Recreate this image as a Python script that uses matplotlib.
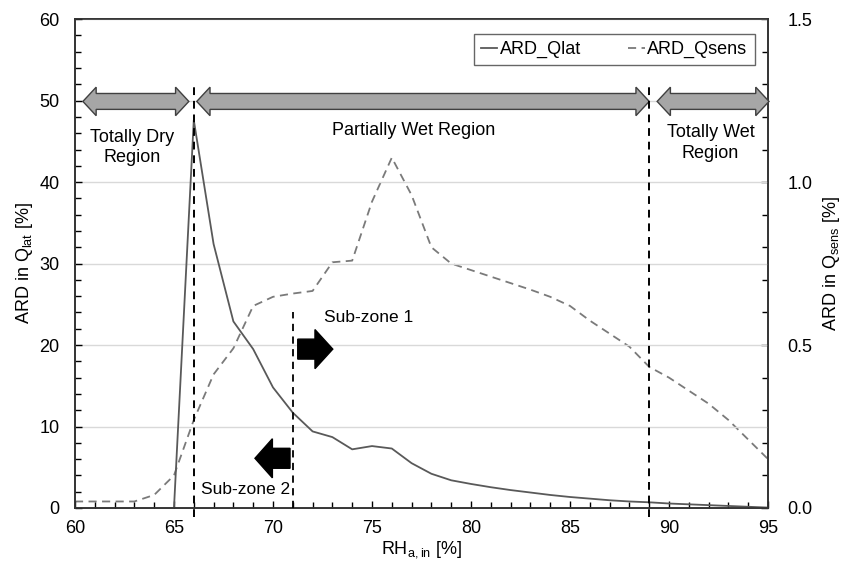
import numpy as np
import matplotlib.pyplot as plt
from matplotlib.patches import Polygon, FancyArrow
from matplotlib.ticker import MultipleLocator

plt.rcParams['font.family'] = ['Liberation Sans', 'DejaVu Sans']
plt.rcParams['mathtext.fontset'] = 'custom'
plt.rcParams['mathtext.rm'] = 'Liberation Sans'

# ARD_Qlat (left axis)
rh_lat = [65, 66, 67, 68, 69, 70, 71, 72, 73, 74, 75, 76, 77, 78, 79, 80,
          81, 82, 83, 84, 85, 86, 87, 88, 89, 90, 91, 92, 93, 94, 95]
ard_lat = [0.0, 47.6, 32.4, 22.9, 19.5, 14.8, 11.7, 9.4, 8.7, 7.2, 7.6, 7.3,
           5.5, 4.2, 3.4, 2.95, 2.55, 2.2, 1.9, 1.6, 1.35, 1.15, 0.95, 0.8,
           0.7, 0.55, 0.45, 0.35, 0.25, 0.15, 0.05]

# ARD_Qsens (right axis)
rh_sens = [60, 61, 62, 63, 64, 65, 66, 67, 68, 69, 70, 71, 72, 73, 74, 75,
           76, 77, 78, 79, 80, 81, 82, 83, 84, 85, 86, 87, 88, 89, 90, 91,
           92, 93, 94, 95]
ard_sens = [0.02, 0.02, 0.02, 0.02, 0.04, 0.10, 0.27, 0.41, 0.49, 0.62,
            0.648, 0.658, 0.666, 0.754, 0.759, 0.94, 1.075, 0.96, 0.80,
            0.75, 0.73, 0.71, 0.69, 0.67, 0.648, 0.62, 0.575, 0.535, 0.495,
            0.433, 0.40, 0.36, 0.32, 0.27, 0.21, 0.15]

zone_bounds = [66, 89]
subzone_x = 71
FS = 13

fig = plt.figure(figsize=(8.51, 5.63), dpi=100)
ax = fig.add_axes([0.0881, 0.0977, 0.8144, 0.8683])
ax2 = ax.twinx()

ax.set_zorder(ax2.get_zorder() + 1)
ax.patch.set_visible(False)

l1, = ax.plot(rh_lat, ard_lat, color='#595959', lw=1.3, label='ARD_Qlat')
l2, = ax2.plot(rh_sens, ard_sens, color='#7a7a7a', lw=1.3,
               linestyle=(0, (4.5, 3)), label='ARD_Qsens')

ax.set_xlim(60, 95)
ax.set_ylim(0, 60)
ax2.set_ylim(0, 1.5)
ax.xaxis.set_major_locator(MultipleLocator(5))
ax.xaxis.set_minor_locator(MultipleLocator(1))
ax.yaxis.set_major_locator(MultipleLocator(10))
ax.yaxis.set_minor_locator(MultipleLocator(2))
ax2.yaxis.set_major_locator(MultipleLocator(0.5))
ax2.yaxis.set_minor_locator(MultipleLocator(0.1))
ax2.yaxis.set_major_formatter(plt.FormatStrFormatter('%.1f'))

for a in (ax, ax2):
    a.tick_params(which='major', direction='in', length=5, width=1,
                  labelsize=FS, colors='black')
    a.tick_params(which='minor', direction='in', length=4, width=1)
    for s in a.spines.values():
        s.set_color('#333333')
        s.set_linewidth(1.2)
ax.tick_params(axis='y', which='major', pad=11)
ax.tick_params(axis='x', which='major', pad=9)
ax2.tick_params(axis='y', which='major', pad=14)

ax.grid(axis='y', which='major', color='#d9d9d9', lw=1)
ax.set_axisbelow(True)

ax.set_xlabel(r'RH$_{\mathregular{a,in}}$ [%]', fontsize=FS, labelpad=1)
ax.set_ylabel(r'ARD in Q$_{\mathregular{lat}}$ [%]', fontsize=FS, labelpad=3)
ax2.set_ylabel(r'ARD in Q$_{\mathregular{sens}}$ [%]', fontsize=FS, labelpad=6)

# region boundaries
for xb in zone_bounds:
    ax.plot([xb, xb], [-1.1, 52], color='black', lw=1.4, ls=(0, (4, 3)),
            clip_on=False, zorder=5)
ax.plot([subzone_x, subzone_x], [0, 24], color='black', lw=1.3,
        ls=(0, (4, 3)), zorder=5)


def double_arrow(x0, x1, y, body=1.95, head=3.5, hl=0.67):
    pts = [(x0, y), (x0 + hl, y + head / 2), (x0 + hl, y + body / 2),
           (x1 - hl, y + body / 2), (x1 - hl, y + head / 2), (x1, y),
           (x1 - hl, y - head / 2), (x1 - hl, y - body / 2),
           (x0 + hl, y - body / 2), (x0 + hl, y - head / 2)]
    ax.add_patch(Polygon(pts, closed=True, facecolor='#a6a6a6',
                         edgecolor='#404040', lw=1, zorder=4, clip_on=False))


double_arrow(60.4, 65.75, 49.9)
double_arrow(66.15, 89.0, 49.9)
double_arrow(89.4, 95.05, 49.9)

ax.text(62.9, 44.2, 'Totally Dry\nRegion', ha='center', va='center',
        fontsize=FS, linespacing=1.25)
ax.text(77.1, 46.3, 'Partially Wet Region', ha='center', va='center',
        fontsize=FS)
ax.text(92.1, 44.8, 'Totally Wet\nRegion', ha='center', va='center',
        fontsize=FS, linespacing=1.25)

# sub-zone arrows
ax.add_patch(FancyArrow(71.25, 19.5, 1.77, 0, width=2.45, head_width=4.8,
                        head_length=0.9, length_includes_head=True,
                        color='black', zorder=5))
ax.add_patch(FancyArrow(70.86, 6.1, -1.77, 0, width=2.45, head_width=4.8,
                        head_length=0.88, length_includes_head=True,
                        color='black', zorder=5))
ax.text(72.6, 23.4, 'Sub-zone 1', ha='left', va='center', fontsize=12.5)
ax.text(68.6, 2.3, 'Sub-zone 2', ha='center', va='center', fontsize=12.5)

leg = ax.legend(handles=[l1, l2], ncol=2, loc='upper right',
                bbox_to_anchor=(0.9885, 0.981), fontsize=FS, frameon=True,
                fancybox=False, shadow=False, handlelength=0.9,
                handletextpad=0.15, columnspacing=2.6, borderpad=0.4,
                borderaxespad=0.3)
leg.get_frame().set_edgecolor('#404040')
leg.get_frame().set_linewidth(1)
leg.set_zorder(10)

fig.savefig('out.png', dpi=100)
